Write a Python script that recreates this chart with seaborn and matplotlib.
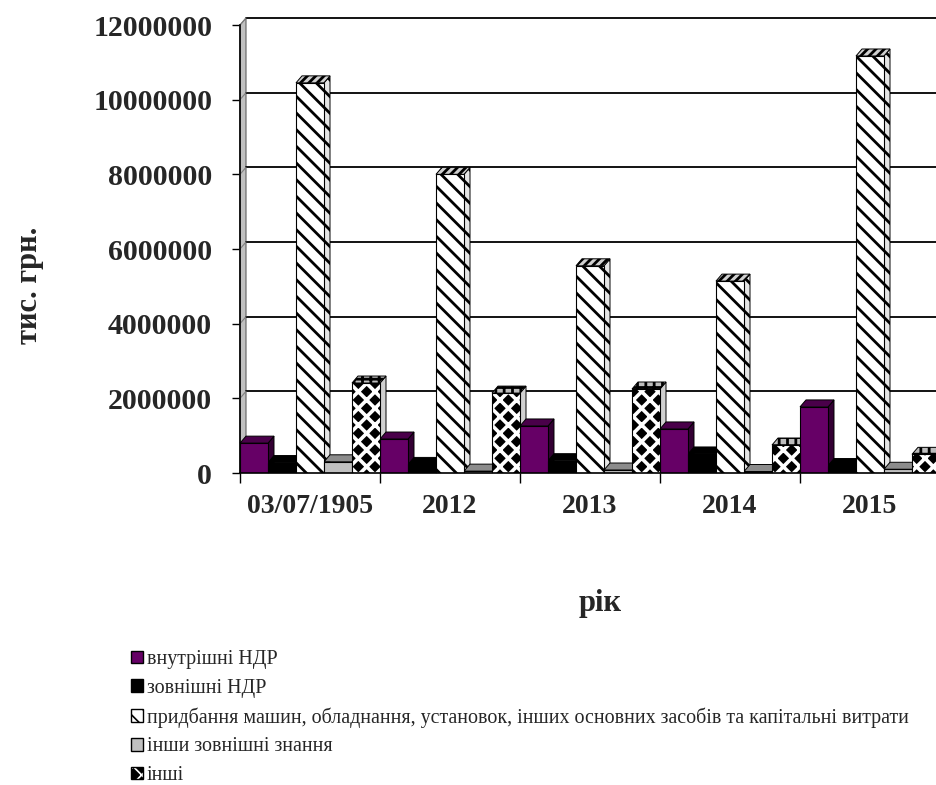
import numpy as np
import pandas as pd
import matplotlib
matplotlib.use("Agg")
import matplotlib.pyplot as plt
from matplotlib.patches import Polygon, Patch
from matplotlib.colors import to_rgba
import seaborn as sns

# ---- data (тис. грн.) ----
years = ["03/07/1905", "2012", "2013", "2014", "2015"]
series = [
    "внутрішні НДР",
    "зовнішні НДР",
    "придбання машин, обладнання, установок, інших основних засобів та капітальні витрати",
    "інши зовнішні знання",
    "інші",
]
internal_rd = [800000, 910000, 1260000, 1180000, 1770000]
external_rd = [280000, 230000, 330000, 510000, 200000]
machinery = [10450000, 8000000, 5550000, 5140000, 11170000]
other_knowledge = [300000, 50000, 80000, 40000, 100000]
other = [2410000, 2140000, 2250000, 750000, 500000]
y_ticks = [0, 2000000, 4000000, 6000000, 8000000, 10000000, 12000000]

values = [internal_rd, external_rd, machinery, other_knowledge, other]
df = pd.DataFrame(
    [(y, s, v[i]) for s, v in zip(series, values) for i, y in enumerate(years)],
    columns=["year", "series", "value"],
)

# ---- styling per series: front, top, side colours and hatches ----
front = ["#660066", "#000000", "#ffffff", "#c0c0c0", "#000000"]
top = ["#4a004a", "#000000", "#cfcfcf", "#8c8c8c", "#bdbdbd"]
side = ["#330033", "#000000", "#e6e6e6", "#a0a0a0", "#d0d0d0"]
hatch = [None, None, "\\\\", None, "xx"]

sns.set_theme(style="white")
plt.rcParams["font.family"] = ["Liberation Serif", "DejaVu Serif"]
plt.rcParams["hatch.linewidth"] = 2.0

W, H = 936, 785
fig = plt.figure(figsize=(W / 100, H / 100), dpi=100)
x0, x1 = 240, 940
y0, y1 = 473, 25
ax = fig.add_axes([x0 / W, 1 - y0 / H, (x1 - x0) / W, (y0 - y1) / H])

sns.barplot(
    data=df, x="year", y="value", hue="series", order=years, hue_order=series,
    palette=front, width=1, gap=0, dodge=True, saturation=1, errorbar=None,
    legend=False, ax=ax, edgecolor="black", linewidth=0.8, zorder=3,
)
ax.set_xlim(-0.5, 4.5)
ax.set_ylim(0, 12000000)

# depth of the pseudo-3D extrusion, in data units
dx_px, dy_px = 6, 7
dx = dx_px / ((x1 - x0) / 5)
dy = dy_px * 12000000 / (y0 - y1)


def set_hatch_style(p, color, lw):
    if hasattr(p, "set_hatchcolor"):
        p.set_hatchcolor(color)
    else:
        p._hatch_color = to_rgba(color)
    if hasattr(p, "set_hatch_linewidth"):
        p.set_hatch_linewidth(lw)


for k, cont in enumerate(ax.containers):
    for bar in cont:
        bx, bw, bh = bar.get_x(), bar.get_width(), bar.get_height()
        bar.set_facecolor(front[k])
        bar.set_edgecolor("black")
        if hatch[k]:
            bar.set_hatch(hatch[k])
            if k == 4:
                set_hatch_style(bar, "white", 2.6)
            else:
                set_hatch_style(bar, "black", 2.0)
        # right side face
        sp = Polygon([(bx + bw, 0), (bx + bw, bh), (bx + bw + dx, bh + dy), (bx + bw + dx, dy)],
                     closed=True, facecolor=side[k], edgecolor="black", linewidth=0.7,
                     zorder=1.5, clip_on=False)
        if hatch[k] == "\\\\":
            sp.set_hatch("\\\\")
        ax.add_patch(sp)
        # top face
        tp = Polygon([(bx, bh), (bx + bw, bh), (bx + bw + dx, bh + dy), (bx + dx, bh + dy)],
                     closed=True, facecolor=top[k], edgecolor="black", linewidth=0.7,
                     zorder=1.6, clip_on=False)
        if hatch[k] == "\\\\":
            tp.set_hatch("////")
        elif hatch[k]:
            tp.set_hatch("++")
        ax.add_patch(tp)

# back wall grid and left wall
for t in y_ticks:
    ax.plot([-0.5 + dx, 4.5 + dx], [t + dy, t + dy], color="black", lw=1.3,
            zorder=0.8, clip_on=False)
    ax.plot([-0.5, -0.5 + dx], [t, t + dy], color="#808080", lw=0.8,
            zorder=0.8, clip_on=False)
wall = Polygon([(-0.5, 0), (-0.5, 12000000), (-0.5 + dx, 12000000 + dy), (-0.5 + dx, dy)],
               closed=True, facecolor="#c0c0c0", edgecolor="#606060", lw=0.8,
               zorder=0.7, clip_on=False)
ax.add_patch(wall)

for s in ["top", "right"]:
    ax.spines[s].set_visible(False)
for s in ["left", "bottom"]:
    ax.spines[s].set_color("black")
    ax.spines[s].set_linewidth(1.2)
    ax.spines[s].set_zorder(4)

ax.set_yticks(y_ticks)
ax.set_yticklabels([str(t) for t in y_ticks], fontsize=21.5, fontweight="bold")
ax.tick_params(axis="y", direction="out", length=6, width=1, color="black", pad=14, left=True)
ax.set_xticks(range(len(years)))
ax.set_xticklabels(years, fontsize=20, fontweight="bold")
ax.set_xticks(np.arange(-0.5, 5.0, 1.0), minor=True)
ax.tick_params(axis="x", which="major", length=0, pad=15)
ax.tick_params(axis="x", which="minor", direction="out", length=7, width=1,
               color="black", bottom=True)
ax.set_xlabel("")
ax.set_ylabel("")
ax.grid(False)

fig.text(30 / W, 1 - 285 / H, "тис. грн.", rotation=90, fontsize=22,
         fontweight="bold", ha="center", va="center")
fig.text(600 / W, 1 - 604 / H, "рік", fontsize=22, fontweight="bold",
         ha="center", va="center")

handles = []
for k in range(5):
    h = Patch(facecolor=front[k], edgecolor="black", hatch=hatch[k], linewidth=1.0)
    handles.append(h)
leg = fig.legend(handles, series, loc="upper left", bbox_to_anchor=(131 / W, 1 - 650 / H),
                 frameon=False, fontsize=14.4, handlelength=0.6, handleheight=0.6,
                 handletextpad=0.2, labelspacing=0.48, borderaxespad=0, borderpad=0)
for p in leg.get_patches():
    if p.get_hatch() == "xx":
        set_hatch_style(p, "white", 1.2)
    elif p.get_hatch():
        set_hatch_style(p, "black", 1.2)

fig.savefig("out.png", dpi=100)
